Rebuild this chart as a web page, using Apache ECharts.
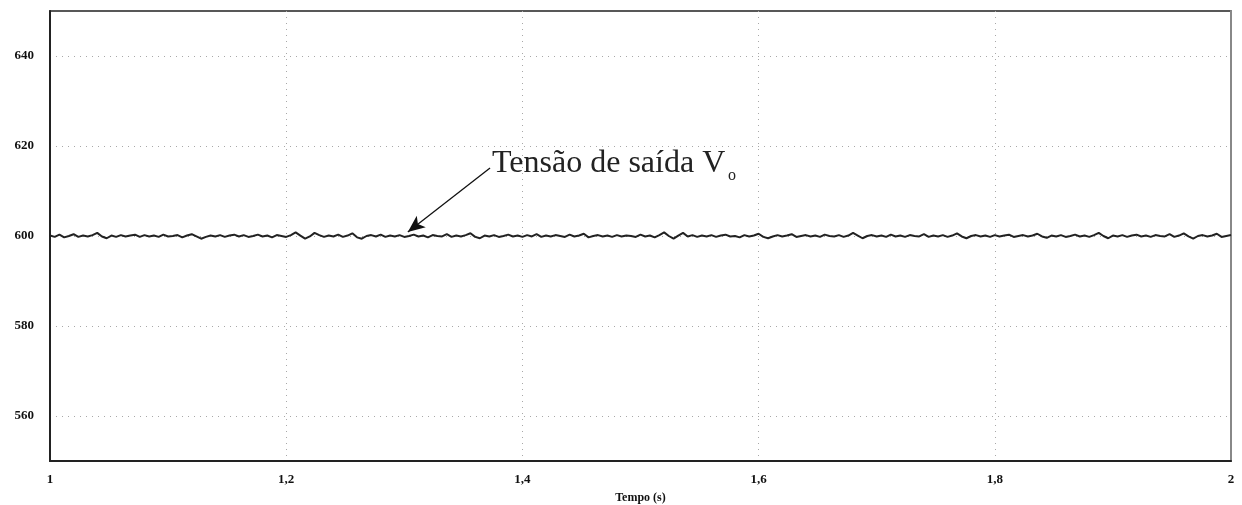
<!DOCTYPE html>
<html>
<head>
<meta charset="utf-8">
<script src="https://cdn.jsdelivr.net/npm/echarts@6/dist/echarts.min.js"></script>
<style>
  html, body { margin: 0; padding: 0; background: #fff; }
  #chart { width: 1242px; height: 505px; }
</style>
</head>
<body>
<div id="chart"></div>
<script>
// Output voltage Vo (V), sampled every 4 ms from t = 1 s to t = 2 s
const tStart = 1.0;
const tStep = 0.004;
const vo = [
  600.1,599.8,600.3,599.7,600.0,600.4,599.8,600.1,599.9,600.2,
  600.7,599.9,599.5,600.1,599.8,600.2,599.9,600.1,600.3,599.8,
  600.2,599.9,600.1,599.8,600.3,599.9,600.0,600.2,599.7,600.1,
  600.4,599.9,599.4,599.8,600.1,599.9,600.2,599.8,600.1,600.3,
  599.9,600.2,599.8,600.0,600.3,599.9,600.1,599.7,600.2,600.0,
  599.8,600.2,600.8,600.1,599.4,599.9,600.7,600.2,599.8,600.1,
  599.9,600.3,599.8,600.1,600.6,599.7,599.4,600.0,600.2,599.9,
  600.3,599.8,600.1,599.9,600.2,599.8,600.0,600.3,599.9,600.1,
  599.7,600.2,600.0,599.9,600.4,599.8,600.1,599.9,600.2,600.6,
  599.8,599.5,600.1,599.9,600.2,599.8,600.0,600.3,599.9,600.1,
  599.8,600.2,599.9,600.4,599.8,600.1,599.9,600.2,600.0,599.8,
  600.3,599.9,600.1,600.5,599.7,600.0,600.2,599.9,600.1,599.8,
  600.2,599.9,600.1,600.0,599.8,600.3,599.9,600.1,599.7,600.2,
  600.8,600.0,599.4,600.1,600.7,599.9,600.2,599.8,600.1,599.9,
  600.2,599.8,600.1,600.3,599.9,600.0,599.7,600.2,599.9,600.1,
  600.5,599.8,599.5,599.9,600.2,599.9,600.1,600.4,599.8,600.0,
  600.2,599.9,600.1,599.8,600.3,600.0,599.9,600.2,599.8,600.1,
  600.7,600.1,599.5,600.0,600.2,599.9,600.1,599.8,600.3,599.9,
  600.1,599.8,600.2,600.0,599.9,600.4,599.8,600.1,599.9,600.2,
  599.8,600.1,600.6,599.9,599.5,600.0,600.2,599.9,600.1,599.8,
  600.2,599.9,600.1,600.3,599.8,600.0,600.2,599.9,600.1,600.5,
  599.9,599.6,600.1,599.9,600.2,599.8,600.0,600.3,599.9,600.1,
  599.8,600.2,600.7,600.0,599.5,600.1,599.9,600.2,599.8,600.1,
  600.3,599.9,600.1,599.8,600.2,600.0,599.9,600.4,599.8,600.1,
  600.6,599.9,599.4,600.0,600.2,599.9,600.1,600.5,599.8,600.0,
  600.2
];
const yLabels = [560, 580, 600, 620, 640];
const xTitle = 'Tempo (s)';
const annotationText = 'Tensão de saída V';
const annotationSub = 'o';
// arrow from the label down to the trace
const arrowFrom = [1.3726, 615.1];
const arrowTo = [1.303, 600.9];

const points = vo.map((v, i) => [+(tStart + i * tStep).toFixed(3), v]);

const serif = '"Liberation Serif", "DejaVu Serif", serif';
const chart = echarts.init(document.getElementById('chart'), null, { renderer: 'canvas' });

const option = {
  animation: false,
  backgroundColor: '#fff',
  grid: {
    left: 50, right: 11, top: 11, bottom: 44,
    outerBoundsMode: 'none', containLabel: false,
    show: true, borderColor: '#222', borderWidth: 1.5
  },
  xAxis: {
    type: 'value', min: 1, max: 2, interval: 0.2,
    name: xTitle, nameLocation: 'middle', nameGap: 31,
    nameTextStyle: { fontFamily: serif, fontWeight: 'bold', fontSize: 12, color: '#111' },
    axisLine: { show: true, lineStyle: { color: '#222', width: 2 } },
    axisTick: { show: false },
    axisLabel: {
      margin: 12, fontFamily: serif, fontWeight: 'bold', fontSize: 13, color: '#111',
      formatter: v => String(+v.toFixed(1)).replace('.', ',')
    },
    splitLine: { show: true, lineStyle: { color: '#a8a8a8', width: 1, type: [1, 5] } }
  },
  yAxis: [{
    type: 'value', min: 550, max: 650, interval: 10,
    axisLine: { show: true, lineStyle: { color: '#222', width: 2 } },
    axisTick: { show: false },
    axisLabel: {
      margin: 16, fontFamily: serif, fontWeight: 'bold', fontSize: 13, color: '#111',
      formatter: v => (yLabels.indexOf(v) >= 0 ? String(v) : '')
    },
    splitLine: { show: true, lineStyle: { color: ['transparent', '#a8a8a8'], width: 1, type: [1, 5] } }
  }, {
    type: 'value', min: 550, max: 650, position: 'right',
    axisLine: { show: true, lineStyle: { color: '#888', width: 2 } },
    axisTick: { show: false }, axisLabel: { show: false }, splitLine: { show: false }
  }],
  series: [{
    type: 'line',
    data: points,
    showSymbol: false,
    lineStyle: { color: '#222', width: 2 },
    markLine: {
      silent: true,
      symbol: ['none', 'arrow'],
      symbolSize: [11, 17],
      lineStyle: { color: '#111', width: 1.3, type: 'solid' },
      label: { show: false },
      data: [[{ coord: arrowFrom }, { coord: arrowTo }]]
    }
  }]
};
chart.setOption(option);

// annotation text placed at the tail of the arrow
const tail = chart.convertToPixel({ seriesIndex: 0 }, arrowFrom);
chart.setOption({
  graphic: [{
    type: 'text', x: tail[0] + 2, y: tail[1] + 12,
    style: { text: annotationText, fontFamily: serif, fontSize: 32, fill: '#222', textVerticalAlign: 'bottom' }
  }, {
    type: 'text', x: tail[0] + 238, y: tail[1] + 16,
    style: { text: annotationSub, fontFamily: serif, fontSize: 16, fill: '#222', textVerticalAlign: 'bottom' }
  }]
});
</script>
</body>
</html>
